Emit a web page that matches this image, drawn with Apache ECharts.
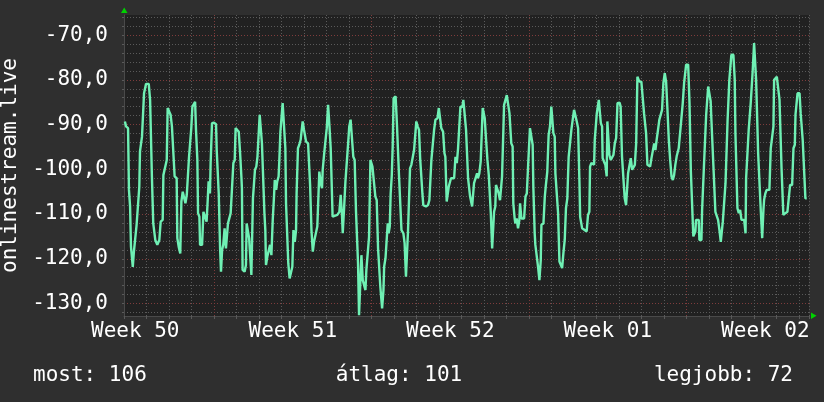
<!DOCTYPE html>
<html>
<head>
<meta charset="utf-8">
<script src="https://cdn.jsdelivr.net/npm/echarts@6/dist/echarts.min.js"></script>
<style>
html,body{margin:0;padding:0;background:#2f2f2f;}
#chart{width:824px;height:402px;}
</style>
</head>
<body>
<div id="chart"></div>
<script>
// time in days from the left edge of the plot
const times = [
0.04,0.09,0.18,0.22,0.27,0.31,0.39,0.44,0.52,0.56,0.64,0.68,0.71,0.77,0.80,0.86,0.89,0.98,1.10,1.16,
1.21,1.24,1.30,1.36,1.39,1.48,1.57,1.63,1.72,1.75,1.82,1.90,1.94,2.01,2.07,2.13,2.19,2.25,2.34,2.37,
2.43,2.50,2.55,2.61,2.67,2.73,2.79,2.84,2.89,2.96,2.99,3.04,3.11,3.16,3.20,3.26,3.29,3.35,3.38,3.47,
3.53,3.61,3.67,3.72,3.76,3.82,3.85,3.91,4.00,4.09,4.12,4.18,4.21,4.27,4.31,4.36,4.41,4.47,4.53,4.59,
4.62,4.68,4.74,4.80,4.86,4.92,4.96,5.04,5.10,5.16,5.22,5.24,5.27,5.36,5.42,5.45,5.51,5.56,5.60,5.66,
5.70,5.73,5.78,5.82,5.88,5.93,5.99,6.03,6.09,6.13,6.19,6.24,6.28,6.31,6.37,6.43,6.49,6.55,6.61,6.67,
6.70,6.76,6.81,6.87,6.90,6.95,7.01,7.05,7.11,7.17,7.20,7.26,7.30,7.36,7.44,7.48,7.53,7.59,7.645,7.67,
7.73,7.79,7.85,7.94,8.00,8.04,8.09,8.18,8.27,8.33,8.39,8.445,8.53,8.59,8.68,8.74,8.80,8.83,8.89,8.95,
9.01,9.07,9.13,9.185,9.24,9.27,9.33,9.48,9.57,9.63,9.69,9.72,9.78,9.84,9.90,9.96,10.01,10.07,10.13,10.19,
10.25,10.31,10.36,10.40,10.445,10.50,10.55,10.61,10.67,10.73,10.77,10.84,10.89,10.95,10.99,11.04,11.11,11.17,11.23,11.29,
11.35,11.39,11.44,11.47,11.53,11.56,11.62,11.67,11.72,11.76,11.81,11.85,11.90,11.94,11.98,12.07,12.13,12.18,12.22,12.28,
12.33,12.415,12.47,12.53,12.58,12.62,12.68,12.71,12.77,12.83,12.89,12.95,12.99,13.05,13.11,13.16,13.22,13.26,13.30,13.42,
13.51,13.57,13.615,13.66,13.72,13.78,13.84,13.93,13.99,14.045,14.10,14.18,14.24,14.28,14.34,14.39,14.43,14.49,14.53,14.67,
14.73,14.79,14.845,14.90,14.95,15.04,15.08,15.16,15.20,15.26,15.29,15.35,15.38,15.47,15.525,15.555,15.64,15.69,15.73,15.79,
15.85,15.91,15.94,16.00,16.03,16.09,16.15,16.21,16.27,16.30,16.36,16.43,16.445,16.50,16.53,16.59,16.65,16.71,16.74,16.80,
16.86,16.89,16.95,17.01,17.07,17.13,17.185,17.21,17.27,17.30,17.36,17.39,17.45,17.51,17.57,17.60,17.66,17.72,17.78,17.84,
17.90,17.96,18.01,18.04,18.10,18.16,18.19,18.25,18.28,18.34,18.40,18.46,18.52,18.55,18.64,18.70,18.74,18.81,18.87,18.93,
18.99,19.05,19.08,19.14,19.17,19.23,19.29,19.35,19.41,19.47,19.525,19.585,19.64,19.70,19.76,19.82,19.88,19.94,20.00,20.06,
20.12,20.18,20.21,20.24,20.27,20.33,20.36,20.44,20.56,20.62,20.68,20.71,20.77,20.83,20.89,20.92,20.98,21.01,21.07,21.10,
21.16,21.19,21.245,21.27,21.33,21.39,21.45,21.48,21.54,21.57,21.63,21.69,21.75,21.81,21.87,21.93,22.02,22.07,22.13,22.19,
22.25,22.31,22.37,22.40,22.46,22.52,22.58,22.64,22.70,22.76,22.815,22.90,22.99,23.05,23.11,23.17,23.20,23.26,23.32,23.38,
23.44,23.50,23.56,23.615,23.67,23.73,23.79,23.85,23.91,23.97,24.03,24.09,24.15,24.21,24.27,24.33,24.39,24.445,24.50,24.56,
24.65,24.71,24.77,24.83,24.89,24.95,24.98,25.07,25.13,25.19,25.245,25.30,25.33,25.39,25.42,25.48,25.54,25.57,25.66,25.69,
25.75,25.78,25.84,25.87,25.93,25.96,26.02,26.07,26.10,26.16,26.19,26.25,26.28,26.34,26.40,26.46,26.52,26.58,26.61,26.67,
26.73,26.79,26.82,26.87,26.90,26.96,26.99,27.08,27.14,27.17,27.23,27.26,27.32,27.38,27.44,27.50,27.56,27.62,27.645,27.70,
27.76,27.82,27.85,27.91,27.94,28.00,28.06,28.09,28.15,28.18,28.24,28.30,28.36,28.415,28.445,28.50,28.56,28.68,28.74,28.80,
28.86,28.89,28.95,29.01,29.07,29.13,29.19,29.22,29.27,29.30,29.39,29.48,29.54,29.60,29.69,29.75,29.81,29.84,29.90,29.93,
30.02,30.07,30.13,30.16,30.22,30.28,30.34
];
const values = [
-89.3,-90.4,-90.8,-104.6,-108.3,-117.3,-121.8,-118.4,-118.0,-112.4,-112.1,-103.9,-96.0,-95.7,-92.7,-92.3,-83.0,-80.9,-80.9,-84.5,
-84.6,-101.6,-112.1,-112.4,-115.8,-116.9,-115.8,-111.7,-111.3,-101.3,-100.9,-97.9,-86.3,-87.1,-87.8,-90.4,-90.8,-101.6,-102.0,-115.4,
-117.3,-118.8,-107.2,-105.0,-105.4,-107.6,-105.7,-105.4,-97.2,-96.8,-90.8,-86.0,-85.6,-84.9,-91.2,-97.9,-109.8,-110.6,-116.9,-116.9,
-109.5,-109.8,-111.7,-106.9,-102.7,-105.4,-98.6,-89.7,-89.6,-89.9,-95.7,-96.0,-105.4,-117.7,-122.9,-118.0,-116.9,-113.2,-117.7,-117.3,
-112.1,-111.7,-109.8,-109.5,-98.6,-97.9,-90.8,-90.4,-91.6,-96.4,-102.0,-104.2,-122.5,-122.9,-121.4,-112.1,-112.4,-115.4,-115.8,-123.6,
-123.6,-106.5,-106.1,-100.1,-99.4,-97.2,-96.8,-87.8,-87.8,-94.2,-94.5,-109.8,-113.6,-121.4,-119.5,-119.2,-116.9,-119.2,-111.3,-105.7,
-102.4,-104.6,-102.7,-101.6,-98.3,-91.6,-91.2,-85.2,-85.2,-95.3,-107.6,-107.9,-121.0,-124.4,-124.0,-121.8,-113.6,-116.2,-113.6,-105.4,
-95.3,-94.5,-93.4,-89.3,-91.2,-91.6,-93.8,-94.2,-103.5,-113.6,-118.4,-116.2,-116.2,-112.8,-100.5,-103.1,-104.2,-100.1,-96.8,-96.4,
-90.8,-85.6,-90.4,-95.3,-94.9,-110.6,-110.6,-110.2,-109.5,-105.7,-110.6,-114.3,-108.7,-102.7,-102.4,-94.2,-90.4,-88.9,-88.6,-97.2,
-97.9,-109.5,-109.8,-121.0,-132.6,-132.6,-119.2,-124.8,-125.1,-127.0,-122.5,-122.1,-115.1,-97.9,-97.5,-99.4,-99.4,-106.1,-106.9,-117.7,
-118.0,-126.2,-126.6,-131.1,-127.0,-121.8,-119.9,-119.5,-112.1,-114.3,-112.8,-105.4,-101.3,-94.9,-84.1,-83.7,-90.1,-90.4,-101.3,-101.6,
-113.6,-114.3,-116.5,-124.0,-124.0,-113.9,-113.6,-99.8,-99.0,-98.6,-95.7,-95.3,-89.3,-90.4,-91.2,-97.5,-97.9,-105.4,-108.0,-108.3,
-108.0,-106.9,-102.4,-97.9,-97.5,-91.2,-88.9,-88.6,-86.3,-86.3,-90.8,-91.6,-96.4,-97.2,-107.2,-107.6,-103.9,-103.9,-102.0,-102.0,
-97.2,-98.6,-95.3,-95.3,-86.0,-86.0,-84.5,-84.5,-91.2,-91.6,-102.0,-102.4,-106.1,-108.3,-108.3,-103.1,-102.7,-100.9,-102.0,-100.9,
-98.3,-97.9,-86.3,-86.7,-88.6,-93.4,-97.9,-101.3,-101.6,-109.8,-117.7,-117.7,-109.5,-108.3,-103.5,-103.9,-105.4,-106.9,-107.2,-101.6,
-101.3,-85.6,-85.2,-83.4,-83.4,-87.5,-87.5,-94.2,-94.9,-107.6,-111.0,-112.1,-111.0,-113.2,-111.3,-107.6,-111.0,-110.6,-111.0,-106.1,
-105.4,-99.0,-98.6,-90.8,-91.2,-94.5,-103.9,-114.3,-116.9,-117.3,-121.8,-124.8,-120.3,-112.4,-112.1,-106.1,-103.9,-100.5,-92.3,-90.4,
-86.0,-86.3,-91.9,-92.7,-100.9,-101.3,-109.8,-120.6,-121.0,-122.1,-118.8,-115.8,-108.7,-106.5,-97.2,-96.8,-91.2,-88.9,-86.7,-86.7,
-89.3,-90.8,-91.2,-103.1,-110.6,-110.9,-113.2,-113.6,-113.9,-110.2,-109.5,-99.4,-98.6,-98.3,-99.0,-93.4,-93.0,-87.5,-87.1,-84.5,
-84.8,-89.7,-90.4,-97.5,-98.3,-99.0,-101.6,-89.3,-89.3,-96.8,-97.9,-97.9,-96.8,-94.2,-93.0,-85.2,-85.1,-86.0,-97.1,-97.5,
-106.5,-108.0,-108.3,-100.9,-100.9,-97.5,-100.1,-99.8,-99.0,-94.2,-79.3,-80.4,-80.4,-80.7,-87.5,-87.8,-91.9,-99.0,-99.4,-99.4,
-97.5,-97.1,-94.2,-95.7,-93.4,-91.2,-88.9,-88.6,-86.7,-80.7,-78.5,-80.4,-86.7,-93.4,-97.9,-101.6,-102.4,-101.3,-99.0,-97.1,
-95.3,-95.3,-88.6,-85.2,-80.7,-80.4,-76.6,-76.6,-85.2,-100.5,-100.9,-115.0,-115.0,-113.9,-111.3,-110.9,-111.3,-115.8,-115.8,-109.1,
-108.7,-98.3,-97.9,-87.8,-87.5,-81.5,-81.5,-84.8,-88.6,-88.6,-99.0,-99.4,-109.5,-109.8,-111.3,-113.6,-116.2,-115.8,-111.7,-111.7,
-103.1,-102.7,-89.3,-88.9,-80.0,-79.6,-74.4,-74.4,-80.0,-91.9,-92.3,-108.7,-109.8,-109.1,-111.3,-110.9,-111.3,-114.3,-102.0,-101.6,
-91.2,-90.8,-85.2,-84.8,-77.8,-71.8,-71.8,-80.0,-80.4,-96.4,-96.8,-109.5,-115.4,-109.1,-106.8,-105.4,-104.6,-104.6,-95.3,-94.9,
-90.4,-80.0,-79.6,-79.3,-79.3,-84.5,-84.8,-99.8,-100.1,-110.2,-109.8,-109.5,-109.5,-103.5,-103.5,-95.3,-94.5,-87.8,-87.5,-83.0,
-83.0,-87.5,-87.8,-93.4,-93.8,-106.5,-106.5
];
const weekLabels = ['Week 50', 'Week 51', 'Week 52', 'Week 01', 'Week 02'];
const weekLabelDays = [0.5, 7.5, 14.5, 21.5, 28.5];
const yLabelTicks = [-130, -120, -110, -100, -90, -80, -70];
const yGridTicks = [-132,-130,-128,-126,-124,-122,-120,-118,-116,-114,-112,-110,-108,-106,-104,-102,-100,
  -98,-96,-94,-92,-90,-88,-86,-84,-82,-80,-78,-76,-74,-72,-70,-68,-66];
const axisTitle = 'onlinestream.live';
const summaryTexts = ['most: 106', 'átlag: 101', 'legjobb: 72'];

const FONT = 'DejaVu Sans Mono';
const G = '#5a5a5a', R = '#7e3c3c';
const seriesData = times.map((t, i) => [t, values[i]]);

const chart = echarts.init(document.getElementById('chart'), null, {renderer: 'canvas'});
chart.setOption({
  backgroundColor: '#2f2f2f',
  animation: false,
  grid: {left: 124, right: 15, top: 15, bottom: 86, show: true, backgroundColor: '#212121', borderWidth: 0,
         containLabel: false, outerBoundsMode: 'none'},
  xAxis: {
    type: 'value', min: 0, max: 30.44, interval: 1,
    axisLine: {show: true, lineStyle: {color: '#4a4a4a', width: 1}},
    axisTick: {show: true, length: 3, lineStyle: {color: [G, G, G, G, R, G, G]}},
    axisLabel: {
      customValues: weekLabelDays,
      formatter: v => weekLabels[weekLabelDays.indexOf(v)] || '',
      color: '#ffffff', fontFamily: FONT, fontSize: 21, margin: 5
    },
    splitLine: {show: true, lineStyle: {color: [G, G, G, G, R, G, G], type: [1, 2], width: 1}}
  },
  yAxis: {
    type: 'value', min: -132.8, max: -65.5,
    name: axisTitle, nameLocation: 'middle', nameGap: 98, nameRotate: 90,
    nameTextStyle: {color: '#ffffff', fontFamily: FONT, fontSize: 21},
    axisLine: {show: true, lineStyle: {color: '#4a4a4a', width: 1}},
    axisTick: {show: true, length: 2, customValues: yGridTicks, lineStyle: {color: G}},
    axisLabel: {
      customValues: yLabelTicks,
      formatter: v => v.toFixed(1).replace('.', ','),
      color: '#ffffff', fontFamily: FONT, fontSize: 21, margin: 16
    },
    splitLine: {show: true, lineStyle: {color: [G, R, G, G, G], type: [1, 2], width: 1}}
  },
  series: [{
    type: 'line', data: seriesData, showSymbol: false, symbol: 'none',
    lineStyle: {color: '#6ff0b4', width: 2.4}, clip: true
  }],
  graphic: [
    {type: 'polygon', shape: {points: [[121, 13], [127.5, 13], [124.2, 7.5]]}, style: {fill: '#00d200'}},
    {type: 'polygon', shape: {points: [[811, 312.5], [811, 319], [816.5, 315.8]]}, style: {fill: '#00d200'}},
    {type: 'text', x: 33, y: 376, style: {text: summaryTexts[0], font: '21px "DejaVu Sans Mono"', fill: '#ffffff', align: 'left', verticalAlign: 'middle'}},
    {type: 'text', x: 399, y: 376, style: {text: summaryTexts[1], font: '21px "DejaVu Sans Mono"', fill: '#ffffff', align: 'center', verticalAlign: 'middle'}},
    {type: 'text', x: 793, y: 376, style: {text: summaryTexts[2], font: '21px "DejaVu Sans Mono"', fill: '#ffffff', align: 'right', verticalAlign: 'middle'}}
  ]
});
</script>
</body>
</html>
